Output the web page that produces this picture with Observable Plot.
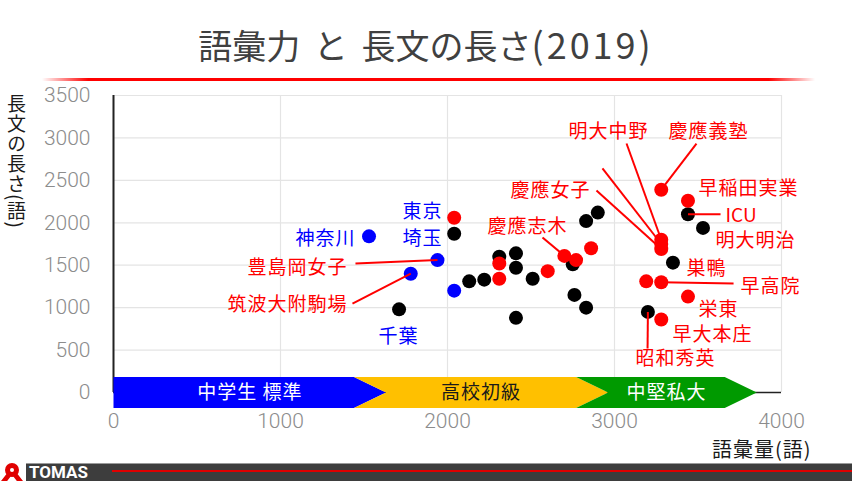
<!DOCTYPE html>
<html><head><meta charset="utf-8">
<script src="https://cdn.jsdelivr.net/npm/d3@7"></script>
<script src="https://cdn.jsdelivr.net/npm/@observablehq/plot@0.6"></script>
<style>
body{margin:0;background:#fff;font-family:"Noto Sans CJK JP",sans-serif;}
#wrap{position:relative;width:852px;height:481px;overflow:hidden;background:#fff;}
#chart{position:absolute;left:0;top:0;}
#title{position:absolute;left:0;width:852px;top:22px;text-align:center;font-size:34px;line-height:1.2;color:#404040;word-spacing:6px;white-space:nowrap;}
#title .yr{font-size:36px;letter-spacing:3px;}
#rule{position:absolute;left:42px;width:773px;top:78px;height:3px;background:linear-gradient(to right,rgba(255,0,0,0),#f00 6%,#f00 94%,rgba(255,0,0,0));}
#ylab{position:absolute;left:7px;top:94px;writing-mode:vertical-rl;text-orientation:mixed;font-size:19px;line-height:1;color:#1a1a1a;letter-spacing:1px;}
#xlab{position:absolute;left:712px;top:438px;font-size:20px;line-height:1.1;color:#1a1a1a;letter-spacing:1px;white-space:nowrap;}
#footer{position:absolute;left:26px;top:463px;width:826px;height:18px;background:#3d3d3d;border-top:1px solid #9a9a9a;box-sizing:border-box;}
#brand{position:absolute;left:29px;top:464px;font-family:Roboto,sans-serif;font-weight:700;font-size:17px;line-height:16px;height:16px;color:#fff;letter-spacing:0px;}
#fline{position:absolute;left:112px;top:470px;width:740px;height:2px;background:#e00000;}
#logo1{position:absolute;left:1px;top:467px;width:22px;height:14px;background:#e00000;clip-path:polygon(50% 0,100% 100%,72% 100%,50% 55%,28% 100%,0 100%);}
#logo2{position:absolute;left:5px;top:463px;width:14px;height:14px;border-radius:50%;background:#e00000;}
#logo3{position:absolute;left:10px;top:468px;width:4px;height:4px;border-radius:50%;background:#fff;}
</style></head>
<body>
<div id="wrap">
  <div id="chart"></div>
  <div id="title">語彙力 と 長文の長さ<span class="yr">(2019)</span></div>
  <div id="rule"></div>
  <div id="ylab">長文の長さ(語)</div>
  <div id="xlab">語彙量(語)</div>
  <div id="footer"></div>
  <div id="fline"></div>
  <div id="logo1"></div><div id="logo2"></div><div id="logo3"></div>
  <div id="brand">TOMAS</div>
</div>
<script>
// ---- data ----
const xTicks = [0, 1000, 2000, 3000, 4000];
const yTicks = [0, 500, 1000, 1500, 2000, 2500, 3000, 3500];

const bandNames  = ["中学生 標準", "高校初級", "中堅私大"];
const bandStarts = [0, 1440, 2770];
const bandEnds   = [1440, 2770, 3660];

const blackVocab  = [1710, 2040, 2130, 2220, 2310, 2410, 2410, 2410, 2510, 2750, 2830, 2900, 2760, 2830, 3350, 3440, 3530, 3200];
const blackLength = [ 980, 1870, 1310, 1330, 1600, 1640, 1470,  880, 1340, 1510, 2020, 2120, 1150, 1000, 1530, 2100, 1940,  950];

const redVocab  = [2040, 2310, 2310, 2600, 2700, 2770, 2860, 3280, 3440, 3280, 3280, 3280, 3190, 3280, 3440, 3280];
const redLength = [2060, 1520, 1340, 1430, 1610, 1560, 1700, 2390, 2260, 1800, 1750, 1690, 1310, 1300, 1130,  860];

const blueVocab  = [1530, 1940, 1780, 2040];
const blueLength = [1840, 1560, 1400, 1200];

const labelText   = ["神奈川", "東京", "埼玉", "千葉", "豊島岡女子", "筑波大附駒場", "慶應志木", "慶應女子", "明大中野", "慶應義塾", "早稲田実業", "ICU", "明大明治", "巣鴨", "早高院", "栄東", "早大本庄", "昭和秀英"];
const labelVocab  = [1449, 1850, 1850, 1707, 1401, 1401, 2479, 2617, 2964, 3563, 3802, 3665, 3844, 3551, 3934, 3623, 3587, 3365];
const labelLength = [1815, 2130, 1815,  660, 1473, 1037, 1956, 2380, 3076, 3076, 2400, 2085, 1791, 1461, 1249,  978,  683,  401];
const labelGroup  = ["blue", "blue", "blue", "blue", "red", "red", "red", "red", "red", "red", "red", "red", "red", "red", "red", "red", "red", "red"];
const labelAlign  = ["end", "middle", "middle", "middle", "end", "end", "middle", "middle", "middle", "middle", "middle", "start", "middle", "middle", "middle", "middle", "middle", "middle"];

const leaderFromVocab  = [1449, 1431, 2569, 3491, 3072, 2928, 2892, 3440, 3280, 3200];
const leaderFromLength = [1520, 1048, 1827, 2934, 2934, 2640, 2380, 2100, 1300,  950];
const leaderToVocab    = [1940, 1780, 2700, 3280, 3280, 3280, 3280, 3635, 3713, 3198];
const leaderToLength   = [1560, 1400, 1610, 2390, 1800, 1750, 1690, 2100, 1284,  518];

// ---- build tables ----
const pts = (xs, ys) => xs.map((x, i) => ({x, y: ys[i]}));
const blackPts = pts(blackVocab, blackLength);
const redPts = pts(redVocab, redLength);
const bluePts = pts(blueVocab, blueLength);
const labels = labelText.map((t, i) => ({t, x: labelVocab[i], y: labelLength[i], c: labelGroup[i] === "blue" ? "#0000ff" : "#ff0000", a: labelAlign[i]}));
const leaders = leaderFromVocab.map((x1, i) => ({x1, y1: leaderFromLength[i], x2: leaderToVocab[i], y2: leaderToLength[i]}));

const bandColors = ["#0000ff", "#ffc000", "#009a00"];
const bandTextColors = ["#ffffff", "#1a1a1a", "#ffffff"];
const H = 183, D = 192; // half height (y units) and chevron depth (x units)
function chevron(i) {
  const s = bandStarts[i], e = bandEnds[i];
  const p = [[s, H], [e, H], [e + D, 0], [e, -H], [s, -H]];
  if (i > 0) p.push([s + D, 0]);
  p.push([s, H]);
  return p.map(([x, y]) => ({x, y}));
}
const bandLabels = bandNames.map((t, i) => ({t, x: (bandStarts[i] + bandEnds[i] + D) / 2, y: 0, c: bandTextColors[i]}));

const cjk = "Noto Sans CJK JP";
const fmt = d => String(d);
const chart = Plot.plot({
  width: 852, height: 481,
  marginLeft: 113, marginRight: 71, marginTop: 95, marginBottom: 89,
  x: {domain: [0, 4000]},
  y: {domain: [0, 3500]},
  color: {type: "identity"},
  style: {background: "transparent", overflow: "visible"},
  marks: [
    Plot.gridX(xTicks, {stroke: "#e4e4e4", strokeOpacity: 1, strokeWidth: 1.2}),
    Plot.gridY(yTicks, {stroke: "#e4e4e4", strokeOpacity: 1, strokeWidth: 1.2}),
    Plot.axisX(xTicks, {tickSize: 0, tickPadding: 21, tickFormat: fmt, label: null, fill: "#8c8c8c", fontSize: 21, fontFamily: "Roboto", fontWeight: 300}),
    Plot.axisY(yTicks, {tickSize: 0, tickPadding: 23, tickFormat: fmt, label: null, fill: "#8c8c8c", fontSize: 21, fontFamily: "Roboto", fontWeight: 300}),
    Plot.ruleY([0], {x1: 0, x2: 4000, stroke: "#222", strokeWidth: 1.5}),
    Plot.ruleX([0], {y1: 0, y2: 3500, stroke: "#222", strokeWidth: 2}),
    ...bandNames.map((n, i) => Plot.line(chevron(i), {x: "x", y: "y", fill: bandColors[i], stroke: "none", curve: "linear"})),
    Plot.text(bandLabels, {x: "x", y: "y", text: "t", fill: "c", fontSize: 19, fontFamily: cjk}),
    Plot.dot(blackPts, {x: "x", y: "y", r: 7, fill: "#000000"}),
    Plot.dot(redPts, {x: "x", y: "y", r: 7, fill: "#ff0000"}),
    Plot.dot(bluePts, {x: "x", y: "y", r: 7, fill: "#0000ff"}),
    Plot.link(leaders, {x1: "x1", y1: "y1", x2: "x2", y2: "y2", stroke: "#ff0000", strokeWidth: 2}),
    ...["start", "middle", "end"].map(a => Plot.text(labels.filter(d => d.a === a), {x: "x", y: "y", text: "t", fill: "c", textAnchor: a, fontSize: 19, fontFamily: cjk}))
  ]
});
document.getElementById("chart").appendChild(chart);
d3.select(chart).selectAll("text").filter(function(){ return this.closest("g") && this.textContent.match(/[\u3000-\u9fff]/); }).attr("letter-spacing", "1");
</script>
</body></html>
